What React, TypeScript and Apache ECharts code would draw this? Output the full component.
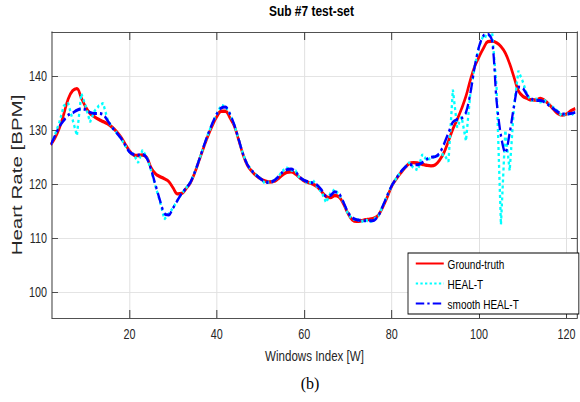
import React, { useEffect, useRef } from "react";
import * as echarts from "echarts";

const windows: number[] = Array.from({ length: 121 }, (_, i) => i + 2);

const groundTruth = [
  127.3, 128.6, 130.4, 133.0, 135.8, 137.3, 137.7, 136.0, 134.3, 133.1,
  132.5, 132.0, 131.6, 131.2, 130.6, 129.8, 128.8, 127.5, 126.2, 125.4,
  125.3, 125.4, 124.9, 123.0, 121.9, 121.4, 121.0, 120.5, 119.3, 118.2,
  118.3, 119.2, 120.3, 122.2, 124.5, 126.8, 129.0, 130.9, 132.5, 133.5,
  133.5, 132.3, 130.8, 128.2, 125.5, 123.5, 122.4, 121.6, 121.0, 120.6,
  120.4, 120.5, 121.0, 121.7, 122.2, 122.3, 121.9, 121.2, 120.6, 120.3,
  120.0, 119.5, 118.6, 117.7, 117.5, 117.9, 117.6, 116.3, 114.6, 113.4,
  113.1, 113.2, 113.4, 113.5, 113.7, 114.3, 115.8, 117.6, 119.6, 120.9,
  122.0, 123.0, 123.8, 124.0, 123.9, 123.7, 123.5, 123.4, 123.6, 124.5,
  125.9, 128.0, 130.2, 132.0, 134.0, 136.3, 139.3, 141.8, 143.6, 145.2,
  146.4, 146.5, 146.2, 145.5, 144.3, 142.3, 139.8, 137.3, 136.3, 135.9,
  135.6, 135.6, 135.9, 135.5, 134.8, 133.9, 133.1, 132.8, 133.0, 133.6,
  134.0,
];

const healT = [
  127.3, 129.2, 131.5, 134.5, 135.0, 132.0, 129.0, 136.8, 134.5, 131.5,
  133.5, 134.5, 135.0, 132.0, 130.5, 129.6, 128.6, 127.2, 126.0, 125.5,
  124.0, 126.3, 125.0, 122.5, 119.5, 116.8, 113.5, 114.5, 115.6, 117.0,
  118.3, 119.3, 120.4, 122.3, 124.6, 127.0, 129.3, 131.3, 133.0, 134.6,
  134.4, 133.0, 131.0, 128.3, 125.6, 123.6, 122.5, 121.7, 121.0, 120.2,
  120.4, 120.6, 121.3, 122.4, 123.0, 122.6, 122.5, 121.0, 120.8, 120.0,
  120.7, 119.5, 118.5, 116.6, 118.3, 119.0, 118.0, 116.6, 114.5, 113.5,
  113.6, 113.0, 113.4, 113.0, 113.5, 114.2, 116.0, 117.9, 119.7, 121.0,
  122.2, 123.1, 124.0, 123.0, 122.6, 125.5, 124.5, 124.8, 125.2, 125.4,
  125.5, 124.2, 137.5, 130.5, 132.5, 128.0, 136.8, 141.8, 145.5, 147.6,
  147.2, 148.0, 138.0, 112.5, 130.0, 122.5, 134.5, 141.0, 139.0, 136.5,
  135.5, 135.8, 135.2, 135.5, 134.8, 134.2, 133.5, 132.6, 133.2, 132.8,
  133.3,
];

const smoothHealT = [
  127.3, 129.0, 130.7, 131.8, 132.8, 133.2, 133.7, 134.0, 133.8, 133.3,
  133.1, 133.1, 132.9, 131.8, 130.6, 129.6, 128.6, 127.3, 126.0, 125.5,
  125.4, 125.5, 124.8, 122.6, 119.8, 117.0, 114.6, 114.3, 115.6, 117.0,
  118.3, 119.3, 120.4, 122.3, 124.6, 127.0, 129.3, 131.3, 133.0, 134.1,
  134.3, 133.0, 131.0, 128.3, 125.6, 123.6, 122.5, 121.7, 121.0, 120.5,
  120.3, 120.6, 121.3, 122.2, 122.7, 122.8, 122.3, 121.3, 120.7, 120.4,
  120.2, 119.8, 118.9, 117.8, 117.9, 118.6, 118.2, 116.6, 114.8, 113.8,
  113.4, 113.3, 113.2, 113.2, 113.3, 114.2, 116.0, 117.9, 119.7, 121.0,
  122.2, 123.1, 123.6, 123.6, 123.6, 124.0, 124.6, 125.0, 125.1, 125.8,
  127.5, 129.5, 131.5, 132.0, 132.2, 133.3, 136.8, 141.8, 145.5, 147.5,
  147.8, 146.5, 135.5, 129.0, 125.8, 129.5, 134.5, 138.0, 137.8, 136.5,
  135.8, 135.5, 135.5, 135.2, 134.6, 134.0, 133.4, 133.0, 133.0, 133.1,
  133.3,
];

const xTicks = [20, 40, 60, 80, 100, 120];
const yTicks = [100, 110, 120, 130, 140];

const FONT = '"Liberation Sans", Arial, Helvetica, sans-serif';
const OUT_W = 580;
const OUT_H = 402;
const INNER_W = 753;
const C = OUT_W / INNER_W; // horizontal compression of the whole figure

export default function App() {
  const ref = useRef<HTMLDivElement>(null);
  useEffect(() => {
    document.body.style.margin = "0";
    if (!ref.current) return;
    const chart = echarts.init(ref.current, undefined, { renderer: "svg" });
    const pair = (ys: number[]) => windows.map((w, i) => [w, ys[i]]);
    const hLine = { color: "#3a3a3a", width: 1 };
    const vLine = { color: "#3a3a3a", width: 1.3 };
    const px = (v: number) => v / C;
    chart.setOption({
      animation: false,
      backgroundColor: "#fff",
      title: {
        text: "Sub #7 test-set",
        left: px(269),
        top: 2,
        padding: 0,
        textStyle: { fontFamily: FONT, fontSize: 15.5, fontWeight: "bold", color: "#000" },
      },
      grid: { left: px(52), right: px(3), top: 32, bottom: 84, containLabel: false },
      legend: {
        orient: "vertical",
        left: px(408),
        top: 253,
        padding: [4, px(60), 4, px(7)],
        itemGap: 7,
        itemWidth: px(28),
        itemHeight: 14,
        backgroundColor: "#fff",
        borderColor: "#000",
        borderWidth: 1.1,
        borderRadius: 0,
        itemStyle: { opacity: 0 },
        textStyle: { fontFamily: FONT, fontSize: 13, color: "#000" },
        data: ["Ground-truth", "HEAL-T", "smooth HEAL-T"],
      },
      xAxis: [
        {
          type: "value",
          min: 2.3,
          max: 122.4,
          name: "Windows Index [W]",
          nameLocation: "middle",
          nameGap: 30,
          nameTextStyle: { fontFamily: FONT, fontSize: 15, color: "#262626" },
          axisLine: { show: true, onZero: false, lineStyle: hLine },
          axisTick: { show: true, inside: true, length: 8, customValues: xTicks, lineStyle: vLine },
          axisLabel: { customValues: xTicks, margin: 10, fontFamily: FONT, fontSize: 14, color: "#262626" },
          splitLine: { show: true, lineStyle: { color: "#e0e0e0", width: 1.3 } },
        },
        {
          type: "value",
          position: "top",
          min: 2.3,
          max: 122.4,
          axisLine: { show: true, onZero: false, lineStyle: hLine },
          axisTick: { show: true, inside: true, length: 8, customValues: xTicks, lineStyle: vLine },
          axisLabel: { show: false, customValues: xTicks },
          splitLine: { show: false },
        },
      ],
      yAxis: [
        {
          type: "value",
          min: 95.2,
          max: 148.2,
          axisLine: { show: true, onZero: false, lineStyle: vLine },
          axisTick: { show: true, inside: true, length: px(6), customValues: yTicks, lineStyle: hLine },
          axisLabel: { customValues: yTicks, margin: px(5), fontFamily: FONT, fontSize: 14, color: "#262626" },
          splitLine: { show: true, lineStyle: { color: "#e0e0e0", width: 1 } },
        },
        {
          type: "value",
          position: "right",
          min: 95.2,
          max: 148.2,
          axisLine: { show: true, onZero: false, lineStyle: vLine },
          axisTick: { show: true, inside: true, length: px(6), customValues: yTicks, lineStyle: hLine },
          axisLabel: { show: false, customValues: yTicks },
          splitLine: { show: false },
        },
      ],
      graphic: [
        {
          type: "text",
          x: px(17),
          y: 175,
          rotation: Math.PI / 2,
          scaleX: 1.08,
          style: {
            text: "Heart Rate [BPM]",
            font: "19px " + FONT,
            fill: "#262626",
            align: "center",
            verticalAlign: "middle",
          },
        },
        {
          type: "text",
          x: px(310),
          y: 383,
          scaleX: 1 / C,
          style: {
            text: "(b)",
            font: '16px "Liberation Serif", "Times New Roman", serif',
            fill: "#000",
            align: "center",
            verticalAlign: "middle",
          },
        },
      ],
      series: [
        {
          name: "Ground-truth",
          type: "line",
          data: pair(groundTruth),
          symbol: "none",
          smooth: 0.4,
          lineStyle: { color: "#ff0000", width: 3.4 },
          itemStyle: { color: "#ff0000" },
          z: 2,
        },
        {
          name: "HEAL-T",
          type: "line",
          data: pair(healT),
          symbol: "none",
          lineStyle: { color: "#00ffff", width: 3, type: [3, 3] },
          itemStyle: { color: "#00ffff" },
          z: 3,
        },
        {
          name: "smooth HEAL-T",
          type: "line",
          data: pair(smoothHealT),
          symbol: "none",
          smooth: 0.3,
          lineStyle: { color: "#0000ff", width: 3, type: [11, 4, 3, 4] },
          itemStyle: { color: "#0000ff" },
          z: 4,
        },
      ],
    });
    return () => chart.dispose();
  }, []);
  return (
    <div style={{ width: OUT_W, height: OUT_H, overflow: "hidden" }}>
      <div
        ref={ref}
        style={{ width: INNER_W, height: OUT_H, transform: `scaleX(${C})`, transformOrigin: "0 0" }}
      />
    </div>
  );
}
